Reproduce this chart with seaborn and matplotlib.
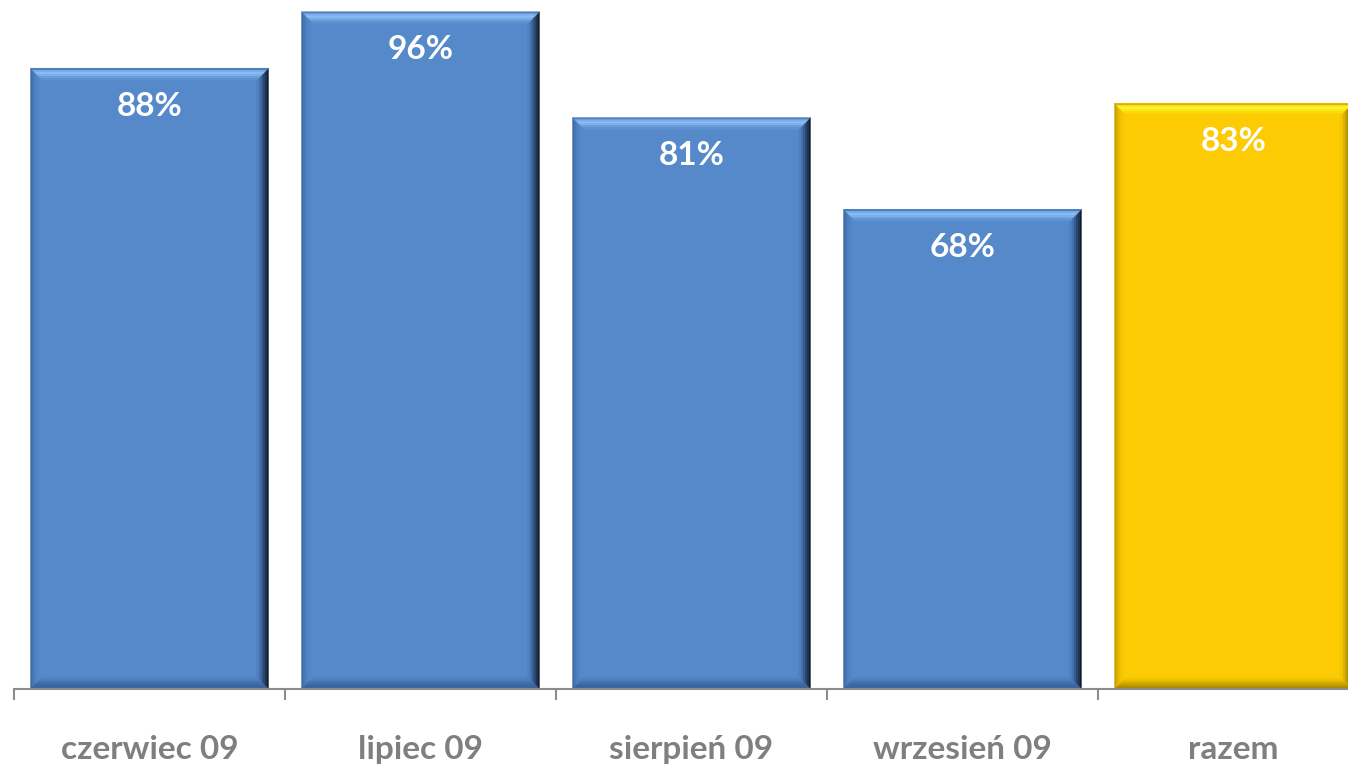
import matplotlib
matplotlib.use("Agg")
import matplotlib.pyplot as plt
from matplotlib.patches import Polygon
from matplotlib.ticker import FixedLocator
import seaborn as sns
import pandas as pd

# Share of completed cases per month, plus the overall total
months = ["czerwiec 09", "lipiec 09", "sierpień 09", "wrzesień 09", "razem"]
shares = [0.88, 0.96, 0.81, 0.68, 0.83]
labels = ["88%", "96%", "81%", "68%", "83%"]

# bevel colour ramps, outer edge -> inner face, per side
blue = {
    "face": "#5589CA",
    "top": ["#4E7EBE", "#7AAEEA", "#8CBEF5", "#7EB0EC", "#6C9EDD", "#5E91D2"],
    "right": ["#111C2E", "#1E3252", "#2B4770", "#385D90", "#4672AE", "#4F80C0"],
    "bottom": ["#3C67A0", "#3A649C", "#3F6AA4", "#4672B0", "#4C7BBA", "#5184C4"],
    "left": ["#3E6BA6", "#4776B3", "#4E80BF", "#5285C6", "#5488C9", "#5589CA"],
}
gold = {
    "face": "#FCCB04",
    "top": ["#E0B000", "#FFEA20", "#FFF530", "#FFE818", "#FFDA0A", "#FDD005"],
    "right": ["#7A6000", "#957600", "#B08C00", "#C9A100", "#E0B400", "#F2C402"],
    "bottom": ["#A88600", "#B89300", "#C9A100", "#DAB000", "#EBBE02", "#F6C703"],
    "left": ["#C9A000", "#DAB000", "#E8BC00", "#F2C502", "#F8C903", "#FCCB04"],
}
schemes = [blue, blue, blue, blue, gold]

sns.set_theme(style="white")
plt.rcParams["font.family"] = ["Lato", "DejaVu Sans"]

W, H = 1348, 767
fig = plt.figure(figsize=(W / 100, H / 100), dpi=100)
# axis spans five 271-px categories starting at x=14, baseline at y=689
ax = fig.add_axes([14 / W, 78 / H, 1355 / W, 705.5 / H])

df = pd.DataFrame({"month": months, "share": shares})
palette = [s["face"] for s in schemes]
sns.barplot(data=df, x="month", y="share", hue="month", palette=palette,
            legend=False, width=0.878, ax=ax, linewidth=0, saturation=1)

ax.set_ylim(0, 1.0)
ax.set_xlim(-0.5, 4.5)

# bevelled edges on each bar, drawn as graded bands sized in pixels
bx = 12 / 271
by = 12 / 705.5
for patch, sc in zip(list(ax.patches), schemes):
    x0 = patch.get_x()
    x1 = x0 + patch.get_width()
    y0 = 0.0
    y1 = patch.get_height()
    n = len(sc["top"])
    for i in range(n):
        a, b = i / n, (i + 1) / n
        ax0, ax1 = a * bx, b * bx
        ay0, ay1 = a * by, b * by
        bands = {
            "top": [(x0 + ax0, y1 - ay0), (x1 - ax0, y1 - ay0), (x1 - ax1, y1 - ay1), (x0 + ax1, y1 - ay1)],
            "bottom": [(x0 + ax0, y0 + ay0), (x1 - ax0, y0 + ay0), (x1 - ax1, y0 + ay1), (x0 + ax1, y0 + ay1)],
            "left": [(x0 + ax0, y0 + ay0), (x0 + ax1, y0 + ay1), (x0 + ax1, y1 - ay1), (x0 + ax0, y1 - ay0)],
            "right": [(x1 - ax0, y0 + ay0), (x1 - ax1, y0 + ay1), (x1 - ax1, y1 - ay1), (x1 - ax0, y1 - ay0)],
        }
        for side in ("left", "right", "bottom", "top"):
            ax.add_patch(Polygon(bands[side], closed=True, facecolor=sc[side][i],
                                 edgecolor=sc[side][i], linewidth=0.3, zorder=3))

for i, (v, t) in enumerate(zip(shares, labels)):
    ax.annotate(t, (i, v), xytext=(0, -38), textcoords="offset pixels",
                ha="center", va="center", color="white", fontsize=24,
                fontweight="bold", zorder=5)

sns.despine(ax=ax, left=True, top=True, right=True)
ax.spines["bottom"].set_color("#8C8C8C")
ax.spines["bottom"].set_linewidth(1.5)
ax.spines["bottom"].set_zorder(4)
ax.set_yticks([])
ax.set_xlabel("")
ax.set_ylabel("")

ax.xaxis.set_minor_locator(FixedLocator([-0.5, 0.5, 1.5, 2.5, 3.5, 4.5]))
ax.tick_params(axis="x", which="minor", bottom=True, length=8, width=1.5,
               color="#8C8C8C", direction="out")
ax.tick_params(axis="x", which="major", bottom=False, length=0, pad=33,
               labelsize=24, labelcolor="#7F7F7F")
for lab in ax.get_xticklabels():
    lab.set_fontweight("bold")

fig.savefig("out.png", dpi=100)
